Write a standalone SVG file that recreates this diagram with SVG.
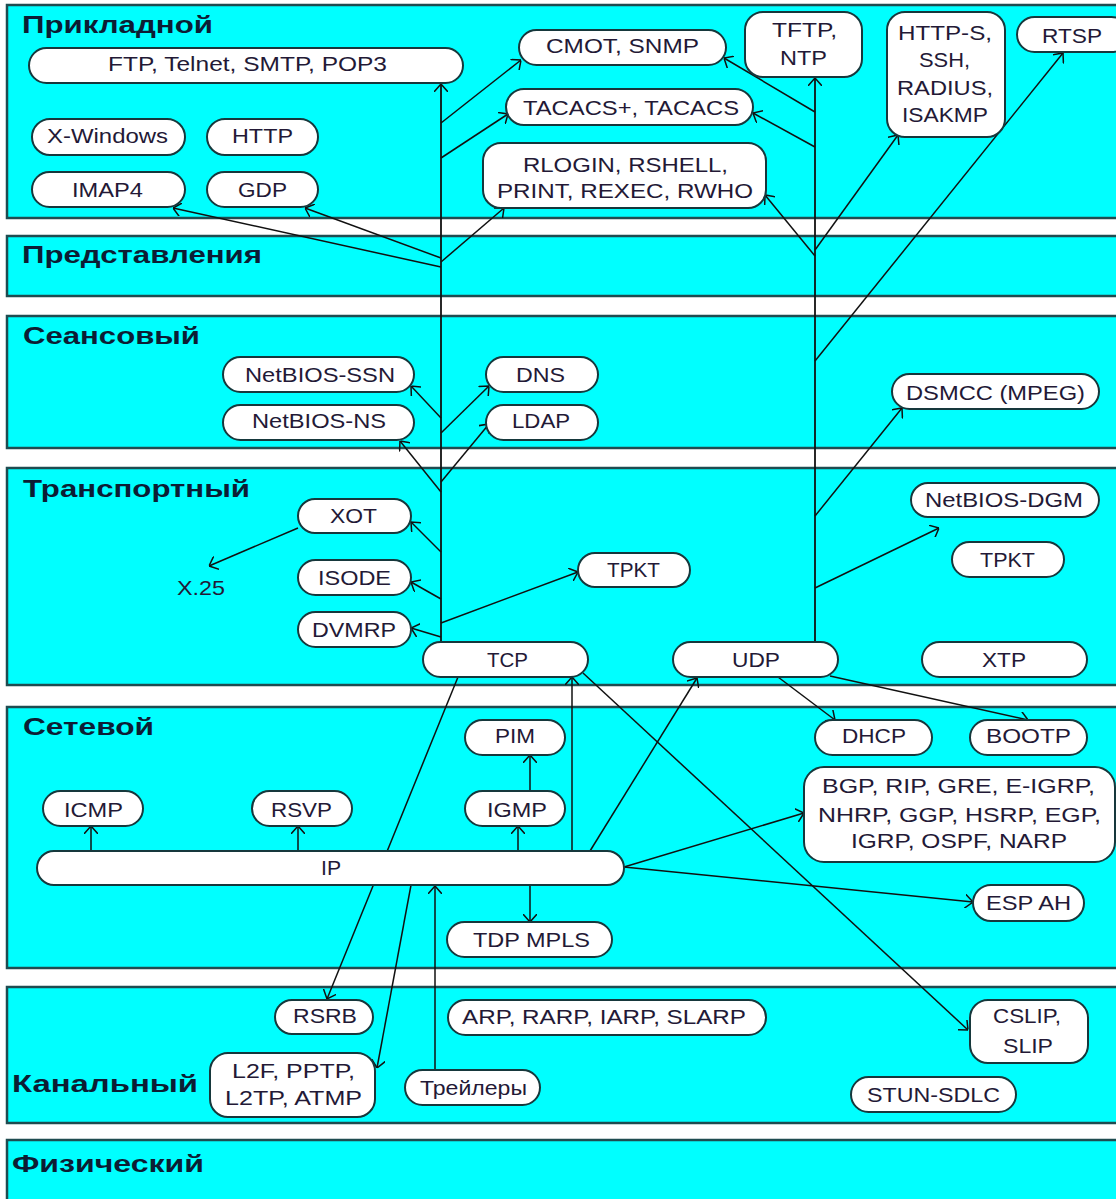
<svg xmlns="http://www.w3.org/2000/svg" width="1116" height="1199" viewBox="0 0 1116 1199">
  <defs>
    <marker id="arrow" markerUnits="userSpaceOnUse" viewBox="0 0 8 14" refX="8" refY="7" markerWidth="8" markerHeight="14" orient="auto">
      <path d="M0,0 L8,7 L0,14" fill="none" stroke="#111" stroke-width="1.5"/>
    </marker>
    <style>
      .band { fill: #00ffff; stroke: #1f4c50; stroke-width: 2.5; }
      .pill { fill: #ffffff; stroke: #16383c; stroke-width: 2; }
      .lbl { font-family: "Liberation Sans", Arial, sans-serif; font-size: 21px; fill: #231936; }
      .ttl { font-family: "Liberation Sans", Arial, sans-serif; font-size: 24px; font-weight: bold; fill: #0c1d34; }
      .edge { fill: none; stroke: #111111; stroke-width: 1.5; marker-end: url(#arrow); }
      .trunk { fill: none; stroke: #111111; stroke-width: 1.8; marker-end: url(#arrow); }
    </style>
  </defs>

  <rect x="0" y="0" width="1116" height="1199" fill="#ffffff"/>

  <!-- OSI layer bands -->
  <g id="layers">
    <g id="layer-application">
      <rect class="band" x="7" y="5" width="1125" height="213"/>
      <text class="ttl" x="22" y="33" textLength="191" lengthAdjust="spacingAndGlyphs">Прикладной</text>
    </g>
    <g id="layer-presentation">
      <rect class="band" x="7" y="236" width="1125" height="60"/>
      <text class="ttl" x="22" y="263" textLength="240" lengthAdjust="spacingAndGlyphs">Представления</text>
    </g>
    <g id="layer-session">
      <rect class="band" x="7" y="316" width="1125" height="132"/>
      <text class="ttl" x="23" y="344" textLength="177" lengthAdjust="spacingAndGlyphs">Сеансовый</text>
    </g>
    <g id="layer-transport">
      <rect class="band" x="7" y="468" width="1125" height="217"/>
      <text class="ttl" x="23" y="497" textLength="227" lengthAdjust="spacingAndGlyphs">Транспортный</text>
    </g>
    <g id="layer-network">
      <rect class="band" x="7" y="707" width="1125" height="261"/>
      <text class="ttl" x="23" y="735" textLength="131" lengthAdjust="spacingAndGlyphs">Сетевой</text>
    </g>
    <g id="layer-datalink">
      <rect class="band" x="7" y="987" width="1125" height="136"/>
      <text class="ttl" x="12" y="1092" textLength="186" lengthAdjust="spacingAndGlyphs">Канальный</text>
    </g>
    <g id="layer-physical">
      <rect class="band" x="7" y="1140" width="1125" height="80"/>
      <text class="ttl" x="12" y="1172" textLength="192" lengthAdjust="spacingAndGlyphs">Физический</text>
    </g>
  </g>

  <!-- connectors -->
  <g id="connectors">
    <!-- TCP trunk and its branches -->
    <path class="trunk" d="M441,642 L441,84"/>
    <path class="edge" d="M441,123 L521,60"/>
    <path class="edge" d="M441,158 L508,114"/>
    <path class="edge" d="M441,262 L504,208"/>
    <path class="edge" d="M441,258 L305,208"/>
    <path class="edge" d="M441,267 L173,208"/>
    <path class="edge" d="M441,418 L411,386"/>
    <path class="edge" d="M441,433 L489,386"/>
    <path class="edge" d="M441,492 L400,441"/>
    <path class="edge" d="M441,482 L489,424"/>
    <path class="edge" d="M441,552 L411,522"/>
    <path class="edge" d="M441,599 L411,582"/>
    <path class="edge" d="M441,637 L411,628"/>
    <path class="edge" d="M441,623 L578,572"/>
    <path class="edge" d="M298,528 L209,566"/>

    <!-- UDP trunk and its branches -->
    <path class="trunk" d="M815,642 L815,78"/>
    <path class="edge" d="M815,112 L724,58"/>
    <path class="edge" d="M815,147 L753,113"/>
    <path class="edge" d="M815,256 L765,195"/>
    <path class="edge" d="M815,250 L898,135"/>
    <path class="edge" d="M815,361 L1063,53"/>
    <path class="edge" d="M815,516 L902,408"/>
    <path class="edge" d="M815,588 L939,528"/>

    <!-- network layer -->
    <path class="edge" d="M91,851 L91,826"/>
    <path class="edge" d="M298,851 L298,826"/>
    <path class="edge" d="M518,851 L518,826"/>
    <path class="edge" d="M530,791 L530,755"/>
    <path class="edge" d="M530,885 L530,922"/>
    <path class="edge" d="M572,851 L572,677"/>
    <path class="edge" d="M590,851 L697,678"/>
    <path class="edge" d="M624,867 L804,813"/>
    <path class="edge" d="M624,867 L973,902"/>
    <path class="edge" d="M778,677 L835,720"/>
    <path class="edge" d="M830,676 L1028,720"/>

    <!-- links down to the data link layer -->
    <path class="edge" d="M583,673 L968,1030"/>
    <path class="edge" d="M458,677 L327,999"/>
    <path class="edge" d="M411,885 L377,1068"/>
    <path class="edge" d="M435,1070 L435,886"/>
  </g>

  <!-- application layer protocols -->
  <g id="n-ftp"><rect class="pill" x="29" y="48" width="434" height="35" rx="17.5"/><text class="lbl" x="108" y="71" textLength="279" lengthAdjust="spacingAndGlyphs">FTP, Telnet, SMTP, POP3</text></g>
  <g id="n-cmot"><rect class="pill" x="519" y="30" width="207" height="35" rx="17.5"/><text class="lbl" x="546" y="53" textLength="153" lengthAdjust="spacingAndGlyphs">CMOT, SNMP</text></g>
  <g id="n-tftp"><rect class="pill" x="745" y="12" width="117" height="65" rx="18"/>
    <text class="lbl" x="772" y="37" textLength="65" lengthAdjust="spacingAndGlyphs">TFTP,</text>
    <text class="lbl" x="780" y="65" textLength="47" lengthAdjust="spacingAndGlyphs">NTP</text></g>
  <g id="n-https"><rect class="pill" x="887" y="12" width="118" height="125" rx="18"/>
    <text class="lbl" x="898" y="40" textLength="94" lengthAdjust="spacingAndGlyphs">HTTP-S,</text>
    <text class="lbl" x="919" y="67" textLength="51" lengthAdjust="spacingAndGlyphs">SSH,</text>
    <text class="lbl" x="897" y="95" textLength="96" lengthAdjust="spacingAndGlyphs">RADIUS,</text>
    <text class="lbl" x="902" y="122" textLength="86" lengthAdjust="spacingAndGlyphs">ISAKMP</text></g>
  <g id="n-rtsp"><rect class="pill" x="1017" y="17" width="112" height="35" rx="17.5"/><text class="lbl" x="1042" y="43" textLength="60" lengthAdjust="spacingAndGlyphs">RTSP</text></g>
  <g id="n-tacacs"><rect class="pill" x="506" y="89" width="247" height="36" rx="18"/><text class="lbl" x="523" y="115" textLength="216" lengthAdjust="spacingAndGlyphs">TACACS+, TACACS</text></g>
  <g id="n-xwindows"><rect class="pill" x="32" y="119" width="153" height="36" rx="18"/><text class="lbl" x="47" y="143" textLength="121" lengthAdjust="spacingAndGlyphs">X-Windows</text></g>
  <g id="n-http"><rect class="pill" x="207" y="119" width="111" height="36" rx="18"/><text class="lbl" x="232" y="143" textLength="61" lengthAdjust="spacingAndGlyphs">HTTP</text></g>
  <g id="n-rlogin"><rect class="pill" x="483" y="143" width="283" height="65" rx="18"/>
    <text class="lbl" x="523" y="172" textLength="205" lengthAdjust="spacingAndGlyphs">RLOGIN, RSHELL,</text>
    <text class="lbl" x="497" y="198" textLength="256" lengthAdjust="spacingAndGlyphs">PRINT, REXEC, RWHO</text></g>
  <g id="n-imap4"><rect class="pill" x="32" y="172" width="153" height="35" rx="17.5"/><text class="lbl" x="72" y="197" textLength="71" lengthAdjust="spacingAndGlyphs">IMAP4</text></g>
  <g id="n-gdp"><rect class="pill" x="207" y="172" width="111" height="35" rx="17.5"/><text class="lbl" x="238" y="197" textLength="49" lengthAdjust="spacingAndGlyphs">GDP</text></g>

  <!-- session layer -->
  <g id="n-netbios-ssn"><rect class="pill" x="223" y="357" width="191" height="35" rx="17.5"/><text class="lbl" x="245" y="382" textLength="150" lengthAdjust="spacingAndGlyphs">NetBIOS-SSN</text></g>
  <g id="n-netbios-ns"><rect class="pill" x="223" y="405" width="191" height="35" rx="17.5"/><text class="lbl" x="252" y="428" textLength="134" lengthAdjust="spacingAndGlyphs">NetBIOS-NS</text></g>
  <g id="n-dns"><rect class="pill" x="486" y="357" width="112" height="35" rx="17.5"/><text class="lbl" x="516" y="382" textLength="49" lengthAdjust="spacingAndGlyphs">DNS</text></g>
  <g id="n-ldap"><rect class="pill" x="486" y="405" width="112" height="35" rx="17.5"/><text class="lbl" x="512" y="428" textLength="58" lengthAdjust="spacingAndGlyphs">LDAP</text></g>
  <g id="n-dsmcc"><rect class="pill" x="892" y="374" width="207" height="35" rx="17.5"/><text class="lbl" x="906" y="400" textLength="179" lengthAdjust="spacingAndGlyphs">DSMCC (MPEG)</text></g>

  <!-- transport layer -->
  <g id="n-xot"><rect class="pill" x="298" y="499" width="113" height="34" rx="17"/><text class="lbl" x="330" y="523" textLength="47" lengthAdjust="spacingAndGlyphs">XOT</text></g>
  <g id="n-x25"><text class="lbl" x="177" y="595" textLength="48" lengthAdjust="spacingAndGlyphs">X.25</text></g>
  <g id="n-isode"><rect class="pill" x="298" y="560" width="113" height="35" rx="17.5"/><text class="lbl" x="318" y="585" textLength="73" lengthAdjust="spacingAndGlyphs">ISODE</text></g>
  <g id="n-dvmrp"><rect class="pill" x="298" y="612" width="113" height="35" rx="17.5"/><text class="lbl" x="312" y="637" textLength="84" lengthAdjust="spacingAndGlyphs">DVMRP</text></g>
  <g id="n-tpkt-tcp"><rect class="pill" x="578" y="553" width="112" height="34" rx="17"/><text class="lbl" x="607" y="577" textLength="53" lengthAdjust="spacingAndGlyphs">TPKT</text></g>
  <g id="n-netbios-dgm"><rect class="pill" x="911" y="483" width="188" height="34" rx="17"/><text class="lbl" x="925" y="507" textLength="158" lengthAdjust="spacingAndGlyphs">NetBIOS-DGM</text></g>
  <g id="n-tpkt-udp"><rect class="pill" x="952" y="542" width="112" height="35" rx="17.5"/><text class="lbl" x="980" y="567" textLength="55" lengthAdjust="spacingAndGlyphs">TPKT</text></g>
  <g id="n-tcp"><rect class="pill" x="423" y="642" width="165" height="35" rx="17.5"/><text class="lbl" x="487" y="667" textLength="41" lengthAdjust="spacingAndGlyphs">TCP</text></g>
  <g id="n-udp"><rect class="pill" x="673" y="642" width="165" height="35" rx="17.5"/><text class="lbl" x="732" y="667" textLength="48" lengthAdjust="spacingAndGlyphs">UDP</text></g>
  <g id="n-xtp"><rect class="pill" x="922" y="642" width="165" height="35" rx="17.5"/><text class="lbl" x="982" y="667" textLength="44" lengthAdjust="spacingAndGlyphs">XTP</text></g>

  <!-- network layer -->
  <g id="n-pim"><rect class="pill" x="465" y="720" width="100" height="35" rx="17.5"/><text class="lbl" x="495" y="743" textLength="40" lengthAdjust="spacingAndGlyphs">PIM</text></g>
  <g id="n-dhcp"><rect class="pill" x="815" y="720" width="117" height="35" rx="17.5"/><text class="lbl" x="842" y="743" textLength="64" lengthAdjust="spacingAndGlyphs">DHCP</text></g>
  <g id="n-bootp"><rect class="pill" x="970" y="720" width="117" height="35" rx="17.5"/><text class="lbl" x="986" y="743" textLength="85" lengthAdjust="spacingAndGlyphs">BOOTP</text></g>
  <g id="n-icmp"><rect class="pill" x="43" y="791" width="100" height="35" rx="17.5"/><text class="lbl" x="64" y="817" textLength="59" lengthAdjust="spacingAndGlyphs">ICMP</text></g>
  <g id="n-rsvp"><rect class="pill" x="252" y="791" width="100" height="35" rx="17.5"/><text class="lbl" x="271" y="817" textLength="61" lengthAdjust="spacingAndGlyphs">RSVP</text></g>
  <g id="n-igmp"><rect class="pill" x="465" y="791" width="100" height="35" rx="17.5"/><text class="lbl" x="487" y="817" textLength="60" lengthAdjust="spacingAndGlyphs">IGMP</text></g>
  <g id="n-routing"><rect class="pill" x="804" y="767" width="311" height="95" rx="20"/>
    <text class="lbl" x="822" y="793" textLength="273" lengthAdjust="spacingAndGlyphs">BGP, RIP, GRE, E-IGRP,</text>
    <text class="lbl" x="818" y="822" textLength="283" lengthAdjust="spacingAndGlyphs">NHRP, GGP, HSRP, EGP,</text>
    <text class="lbl" x="851" y="848" textLength="216" lengthAdjust="spacingAndGlyphs">IGRP, OSPF, NARP</text></g>
  <g id="n-ip"><rect class="pill" x="37" y="851" width="587" height="34" rx="17"/><text class="lbl" x="321" y="875" textLength="20" lengthAdjust="spacingAndGlyphs">IP</text></g>
  <g id="n-espah"><rect class="pill" x="973" y="885" width="111" height="36" rx="18"/><text class="lbl" x="986" y="910" textLength="85" lengthAdjust="spacingAndGlyphs">ESP AH</text></g>
  <g id="n-tdp-mpls"><rect class="pill" x="447" y="922" width="165" height="35" rx="17.5"/><text class="lbl" x="473" y="947" textLength="117" lengthAdjust="spacingAndGlyphs">TDP MPLS</text></g>

  <!-- data link layer -->
  <g id="n-rsrb"><rect class="pill" x="275" y="1000" width="98" height="34" rx="17"/><text class="lbl" x="293" y="1023" textLength="64" lengthAdjust="spacingAndGlyphs">RSRB</text></g>
  <g id="n-arp"><rect class="pill" x="448" y="1000" width="318" height="35" rx="17.5"/><text class="lbl" x="462" y="1024" textLength="284" lengthAdjust="spacingAndGlyphs">ARP, RARP, IARP, SLARP</text></g>
  <g id="n-cslip"><rect class="pill" x="970" y="1000" width="118" height="63" rx="18"/>
    <text class="lbl" x="993" y="1023" textLength="68" lengthAdjust="spacingAndGlyphs">CSLIP,</text>
    <text class="lbl" x="1003" y="1053" textLength="50" lengthAdjust="spacingAndGlyphs">SLIP</text></g>
  <g id="n-l2f"><rect class="pill" x="210" y="1053" width="165" height="64" rx="18"/>
    <text class="lbl" x="232" y="1078" textLength="123" lengthAdjust="spacingAndGlyphs">L2F, PPTP,</text>
    <text class="lbl" x="225" y="1105" textLength="137" lengthAdjust="spacingAndGlyphs">L2TP, ATMP</text></g>
  <g id="n-trailers"><rect class="pill" x="405" y="1070" width="135" height="35" rx="17.5"/><text class="lbl" x="420" y="1095" textLength="107" lengthAdjust="spacingAndGlyphs">Трейлеры</text></g>
  <g id="n-stun-sdlc"><rect class="pill" x="851" y="1077" width="165" height="35" rx="17.5"/><text class="lbl" x="867" y="1102" textLength="133" lengthAdjust="spacingAndGlyphs">STUN-SDLC</text></g>
</svg>
